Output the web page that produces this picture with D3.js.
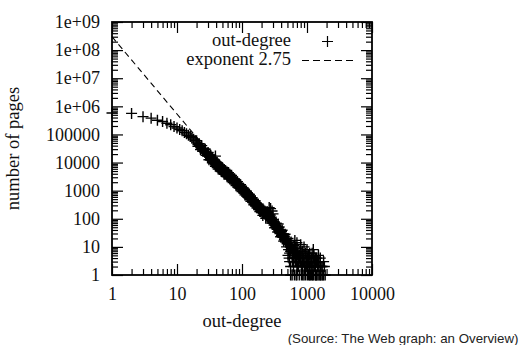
<!DOCTYPE html>
<html><head><meta charset="utf-8">
<script src="https://cdn.jsdelivr.net/npm/d3@7"></script>
<style>body{margin:0;background:#fff} svg{display:block}</style>
</head><body>
<svg id="c" width="523" height="345"></svg>
<script>
// out-degree distribution: [out-degree, number of pages]
const outDegreePoints = [
  [1,580000],[2,560000],[3,430000],[4,380000],[5,320000],[6,290000],[7,250000],[8,220000],[9,190000],[10,170000],
  [11,150000],[12,135000],[13,118000],[14,105000],[15,94000],[16,84000],[17,76000],[18,68000],[19,61000],
  [20,60000],[21,38000],[22,47000],[23,29000],[24,40000],[25,25000],[27,30000],[28,18000],[30,22000],[31,12600],
  [33,16600],[35,9800],[37,12900],[39,7400],[39,17000],[41,9800],[43,5900],[45,8100],[48,4800],[50,6600],[53,3800],
  [56,5100],[59,3100],[62,4400],[65,2600],[69,3500],[73,1950],[77,2570],[81,1510],[85,2090],[90,1230],
  [95,1620],[100,933],[105,1230],[111,708],[117,955],[123,575],[130,741],[137,417],[144,550],[152,316],
  [160,427],[169,245],[178,331],[188,182],[198,234],[209,132],[220,178],[232,105],
  [245,178],[258,105],[262,250],[272,135],[275,230],[287,71],[290,190],[300,150],[302,93],[318,48],[336,69],
  [354,34],[360,65],[373,51],[393,23],[414,39],[437,16],[460,28],[470,19],[485,10],[495,13],[511,20],[520,8],
  [539,6],[550,12],[560,2],[568,15],[580,9],[590,1],[599,4],[600,3],[610,7],[620,2],[631,11],[640,1],[645,6],
  [650,17],[665,3],[680,5],[700,14],[700,2],[700,1],[701,9],[720,6],[739,2],[750,3],[760,4],[760,1],[779,7],
  [800,12],[800,3],[820,2],[821,1],[840,4],[860,1],[865,5],[890,3],[900,10],[900,3],[912,2],[940,2],[950,1],
  [961,4],[990,3],[1000,8],[1000,2],[1013,1],[1040,2],[1068,3],[1100,6],[1100,2],[1100,1],[1125,1],[1160,3],
  [1186,2],[1200,6],[1200,3],[1220,1],[1250,8],[1250,1],[1280,2],[1300,2],[1318,3],[1350,2],[1389,1],[1400,4],
  [1420,1],[1464,2],[1500,5],[1500,3],[1543,1],[1600,2],[1600,1],[1626,1],[1700,1],[1714,2],[1800,3],[1806,1],[1904,1],
  [20,50000],[21,45000],[22,40000],[23,35500],[24,32000],[25,29000],[26,26000],[27,24000],[28,22000],[29,20000],
  [30,18500],[31,17000],[32,15800],[33,13500],[34,12600],[35,11700],[36,11000],[37,10200],[38,9550],[39,9100],
  [40,8700],[41,8100],[42,7800],[43,7400],[44,7000],[45,6600],[47,6000],[48,5750],[49,5500],[50,5250],
  [52,4900],[54,4570],[56,4270],[58,4000],[60,3700],[62,3550],[64,3300],[67,2950],[69,2750],[71,2570],
  [75,2290],[79,2000],[83,1780],[88,1550],[92,1410],[97,1230],[103,1070],[108,955],[114,830],[120,740],
  [126,645],[133,560],[140,490],[148,427],[156,372],[164,324],[173,282],[183,245],[193,209],[203,190],
  [214,178],[226,162],[238,151],[250,145],[265,120],[280,98],[295,81],[310,69],[327,58],[345,48],
  [364,42],[383,35],[404,30],[426,25],[448,21],[472,17],[498,14],[525,12],[553,10],[583,9],
  [615,8],[648,7],[683,6],[720,5],[759,4],[800,4],[843,3],[888,3],
  [540,3],[1000,3],[1400,3],[650,4],[1100,5],[1250,4],[1600,4],[850,7],[950,6],[720,2],[1150,2],[1450,2],
  [27,29900],[27,22600],[30,23000],[30,17400],[33,18200],[33,13700],[35,14500],[35,11000],[37,12650],[37,9570],
  [39,11000],[39,8300],[41,10000],[41,7570],[43,8970],[43,6790],[45,8050],[45,6090],[48,6900],[48,5220],
  [50,6330],[50,4790],[53,5640],[53,4260],[55,5260],[55,3980],[59,4600],[59,3480],[61,4260],[61,3220],
  [65,3800],[65,2870],[68,3390],[68,2570],[72,2960],[72,2240],[76,2630],[76,1990],[80,2300],[80,1740],
  [84,2050],[84,1550],[89,1780],[89,1350],[93,1620],[93,1230],[98,1410],[98,1070],[104,1230],[104,930],
  [109,1100],[109,830],[115,955],[115,722],[121,851],[121,644],[127,742],[127,561],[134,644],[134,487],
  [141,564],[141,426],[149,491],[149,371],[157,428],[157,324],[165,373],[165,282],[174,324],[174,245],
  [184,282],[184,213],[194,240],[194,182],[204,219],[204,165],[215,205],[215,155],[227,186],[227,141],
  [239,174],[239,131],[251,167],[251,126],[266,138],[266,104],[281,113],[281,85],[296,93],[296,70],
  [311,79],[311,60],[328,67],[328,50],[346,55],[346,42],[365,48],[365,37],[384,40],[384,30],
  [405,35],[405,26],[427,29],[427,22],[449,24],[449,18],[473,20],[473,15],
  [510,5],[530,4],[560,7],[590,5],[620,4],[660,9],[690,3],[730,4],[770,5],[810,6],[850,2],[880,4],[930,5],
  [970,2],[1020,4],[1060,5],[1120,3],[1180,4],[1230,2],[1290,3],[1360,1],[1440,3],[1520,2],[1580,3],[1650,2],
  [1750,1],[1850,2],[560,1],[680,1],[900,1],[1060,1],[1180,1],[1330,1],[1480,1],[620,3],[780,3],[1040,3],
  [1280,5],[1350,4]
];
const fitExponent = 2.75;
const fitConstant = 3e8;
const xTickValues = [1, 10, 100, 1000, 10000];
const xTickLabels = ["1", "10", "100", "1000", "10000"];
const yTickValues = [1, 10, 100, 1e3, 1e4, 1e5, 1e6, 1e7, 1e8, 1e9];
const yTickLabels = ["1", "10", "100", "1000", "10000", "100000", "1e+06", "1e+07", "1e+08", "1e+09"];
const legendLabels = ["out-degree", "exponent 2.75"];
const xTitle = "out-degree";
const yTitle = "number of pages";
const sourceNote = "(Source: The Web graph: an Overview)";

const serif = "'Liberation Serif','Times New Roman',serif";
const svg = d3.select("#c");
const L = 112, R = 372, T = 22, B = 275;
const x = d3.scaleLog().domain([1, 1e4]).range([L, R]);
const y = d3.scaleLog().domain([1, 1e9]).range([B, T]);

function minors(decades) {
  const out = [];
  for (let i = 0; i < decades.length - 1; i++)
    for (let k = 2; k <= 9; k++) out.push(decades[i] * k);
  return out;
}
const xMinor = minors(xTickValues), yMinor = minors(yTickValues);

function styleAxis(g) {
  g.select(".domain").remove();
  g.selectAll(".tick line").attr("stroke", "#000").attr("stroke-width", 1.2);
  g.attr("font-family", serif).attr("font-size", 18);
  g.selectAll("text").attr("fill", "#111");
}

// bottom
svg.append("g").attr("transform", `translate(0,${B})`)
  .call(d3.axisBottom(x).tickValues(xTickValues).tickSize(-11).tickSizeOuter(0).tickPadding(12)
    .tickFormat((d, i) => xTickLabels[i])).call(styleAxis);
svg.append("g").attr("transform", `translate(0,${B})`)
  .call(d3.axisBottom(x).tickValues(xMinor).tickSize(-6).tickSizeOuter(0).tickFormat("")).call(styleAxis);
// top
svg.append("g").attr("transform", `translate(0,${T})`)
  .call(d3.axisTop(x).tickValues(xTickValues).tickSize(-11).tickSizeOuter(0).tickFormat("")).call(styleAxis);
svg.append("g").attr("transform", `translate(0,${T})`)
  .call(d3.axisTop(x).tickValues(xMinor).tickSize(-6).tickSizeOuter(0).tickFormat("")).call(styleAxis);
// left
svg.append("g").attr("transform", `translate(${L},0)`)
  .call(d3.axisLeft(y).tickValues(yTickValues).tickSize(-11).tickSizeOuter(0).tickPadding(12)
    .tickFormat((d, i) => yTickLabels[i])).call(styleAxis);
svg.append("g").attr("transform", `translate(${L},0)`)
  .call(d3.axisLeft(y).tickValues(yMinor).tickSize(-6).tickSizeOuter(0).tickFormat("")).call(styleAxis);
// right
svg.append("g").attr("transform", `translate(${R},0)`)
  .call(d3.axisRight(y).tickValues(yTickValues).tickSize(-11).tickSizeOuter(0).tickFormat("")).call(styleAxis);
svg.append("g").attr("transform", `translate(${R},0)`)
  .call(d3.axisRight(y).tickValues(yMinor).tickSize(-6).tickSizeOuter(0).tickFormat("")).call(styleAxis);

// frame
svg.append("rect").attr("x", L).attr("y", T).attr("width", R - L).attr("height", B - T)
  .attr("fill", "none").attr("stroke", "#000").attr("stroke-width", 1.8);

// fit line
const xEnd = Math.pow(fitConstant, 1 / fitExponent);
const fitPts = [1, xEnd].map(d => [d, fitConstant * Math.pow(d, -fitExponent)]);
svg.append("path").attr("d", d3.line().x(d => x(d[0])).y(d => y(d[1]))(fitPts))
  .attr("fill", "none").attr("stroke", "#000").attr("stroke-width", 1.1).attr("stroke-dasharray", "6,4");

// points
const plus = "M-5.5,0H5.5M0,-5.5V5.5";
svg.append("g").selectAll("path").data(outDegreePoints).join("path")
  .attr("transform", d => `translate(${x(d[0])},${y(d[1])})`)
  .attr("d", plus).attr("fill", "none").attr("stroke", "#000").attr("stroke-width", 1.4);

// legend
const lg = svg.append("g").attr("font-family", serif).attr("font-size", 18.5).attr("fill", "#111");
lg.append("text").attr("x", 291).attr("y", 46).attr("text-anchor", "end").text(legendLabels[0]);
lg.append("text").attr("x", 291).attr("y", 65).attr("text-anchor", "end").text(legendLabels[1]);
lg.append("path").attr("transform", "translate(327.5,41.5)").attr("d", plus)
  .attr("stroke", "#000").attr("stroke-width", 1.2);
lg.append("line").attr("x1", 302).attr("x2", 354).attr("y1", 60.5).attr("y2", 60.5)
  .attr("stroke", "#000").attr("stroke-width", 1.1).attr("stroke-dasharray", "7,4");

// titles
svg.append("text").attr("x", (L + R) / 2).attr("y", 327).attr("text-anchor", "middle")
  .attr("font-family", serif).attr("font-size", 18.5).attr("fill", "#111").text(xTitle);
svg.append("text").attr("transform", `translate(19,${(T + B) / 2}) rotate(-90)`).attr("text-anchor", "middle")
  .attr("font-family", serif).attr("font-size", 18.5).attr("fill", "#111").text(yTitle);
svg.append("text").attr("x", 518.5).attr("y", 343).attr("text-anchor", "end")
  .attr("font-family", "'Liberation Sans',Arial,sans-serif").attr("font-size", 13.3).attr("fill", "#222").text(sourceNote);
</script>
</body></html>
